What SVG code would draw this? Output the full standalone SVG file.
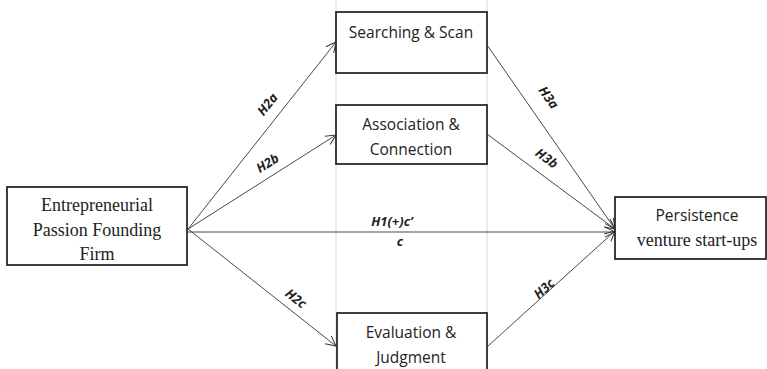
<svg xmlns="http://www.w3.org/2000/svg" width="767" height="369" viewBox="0 0 767 369">
<style>
.box{fill:#fff;stroke:#2b2b2b;stroke-width:1.8}
.guide{stroke:#d8d8d8;stroke-width:1}
.edge{stroke:#333;stroke-width:0.9;fill:none}
.sans{font-family:"Open Sans","Noto Sans",sans-serif;font-size:15.5px;fill:#222;text-anchor:middle}
.serif{font-family:"Liberation Serif","Times New Roman",serif;font-size:18px;fill:#222;text-anchor:middle}
.lbl{font-family:"Open Sans","Noto Sans",sans-serif;font-size:13px;font-weight:bold;font-style:italic;fill:#222;text-anchor:middle}
</style>
<defs>
<marker id="arr" viewBox="0 0 12 12" refX="11" refY="6" markerWidth="12" markerHeight="12" markerUnits="userSpaceOnUse" orient="auto">
<path d="M1,1 L11,6 L1,11" fill="none" stroke="#333" stroke-width="1"/>
</marker>
</defs>
<rect width="767" height="369" fill="#fff"/>
<g id="guides">
<line class="guide" x1="336" y1="0" x2="336" y2="369"/>
<line class="guide" x1="487" y1="0" x2="487" y2="369"/>
</g>
<g id="connectors">
<line class="edge" x1="188" y1="229" x2="336" y2="42" marker-end="url(#arr)"/>
<line class="edge" x1="188" y1="229" x2="336" y2="135" marker-end="url(#arr)"/>
<line class="edge" x1="188" y1="229" x2="336" y2="346" marker-end="url(#arr)"/>
<line class="edge" x1="188" y1="232" x2="615" y2="232" marker-end="url(#arr)"/>
<line class="edge" x1="487" y1="45" x2="615" y2="229" marker-end="url(#arr)"/>
<line class="edge" x1="487" y1="134" x2="615" y2="229" marker-end="url(#arr)"/>
<line class="edge" x1="487" y1="347" x2="615" y2="231" marker-end="url(#arr)"/>
<text class="lbl" transform="translate(271,107) rotate(-51.5)">H2a</text>
<text class="lbl" transform="translate(270,167) rotate(-32)">H2b</text>
<text class="lbl" transform="translate(293,302) rotate(38.6)">H2c</text>
<text class="lbl" transform="translate(545,100) rotate(55)">H3a</text>
<text class="lbl" transform="translate(544,162) rotate(36.6)">H3b</text>
<text class="lbl" transform="translate(547,292) rotate(-42.4)">H3c</text>
<text class="lbl" x="392" y="226">H1(+)c’</text>
<text class="lbl" x="400" y="246">c</text>
</g>
<g id="n-passion">
<rect class="box" x="7" y="187" width="180" height="78"/>
<text class="serif" x="97" y="211">Entrepreneurial</text>
<text class="serif" x="97" y="236">Passion Founding</text>
<text class="serif" x="97" y="260">Firm</text>
</g>
<g id="n-search">
<rect class="box" x="336" y="12" width="151" height="61"/>
<text class="sans" x="411" y="38">Searching &amp; Scan</text>
</g>
<g id="n-assoc">
<rect class="box" x="336" y="105" width="151" height="59"/>
<text class="sans" x="411" y="130">Association &amp;</text>
<text class="sans" x="411" y="155">Connection</text>
</g>
<g id="n-eval">
<rect class="box" x="337" y="313" width="150" height="70"/>
<text class="sans" x="411" y="338">Evaluation &amp;</text>
<text class="sans" x="411" y="363">Judgment</text>
</g>
<g id="n-persist">
<rect class="box" x="615" y="197" width="151" height="62"/>
<text class="sans" x="697" y="221">Persistence</text>
<text class="serif" x="697" y="246">venture start-ups</text>
</g>
</svg>
